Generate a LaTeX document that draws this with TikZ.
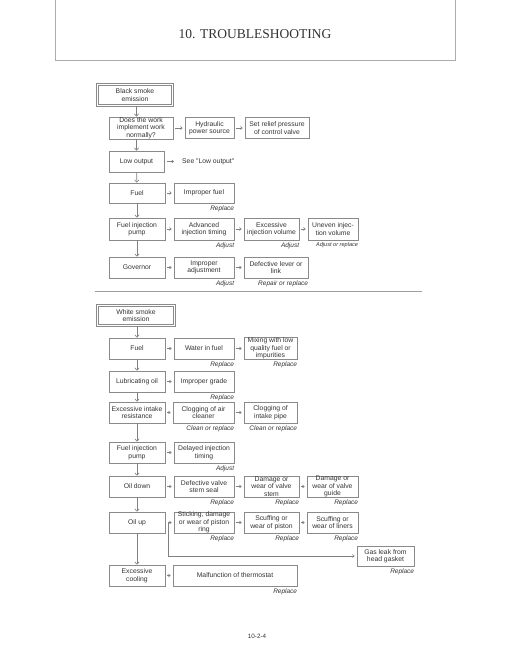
\documentclass[tikz,border=0pt]{standalone}
\usepackage{fontspec}
\newfontfamily\sansf{Liberation Sans}
\newfontfamily\seriff{Liberation Serif}
\usetikzlibrary{arrows.meta,calc}
\definecolor{bord}{HTML}{8A8A8A}
\definecolor{txt}{HTML}{333333}
\definecolor{arr}{HTML}{808080}
\tikzset{
  bx/.style={draw=bord, line width=0.6pt, inner sep=0pt, align=center, text=txt,
    font=\sansf\fontsize{6.8}{7.5}\selectfont, minimum height=21pt, minimum width=56pt},
  hdrbox/.style={bx, line width=0.5pt},
  hdrouter/.style={draw=bord, line width=0.9pt},
  note/.style={inner sep=0pt, text=txt, anchor=north east, yshift=-2pt,
    font=\sansf\itshape\fontsize{6.5}{7}\selectfont},
  smallnote/.style={note, font=\sansf\itshape\fontsize{5.6}{6}\selectfont},
  varr/.style={draw=arr, line width=0.6pt, -{Straight Barb[length=2.5pt,width=4.5pt]}},
  harr/.style={draw=arr, line width=0.6pt, -{Straight Barb[length=1.8pt,width=3pt]},
    shorten <=2pt, shorten >=2pt},
  frameline/.style={draw=gray!65, line width=1pt},
  sepline/.style={draw=gray!75, line width=0.9pt},
}
\begin{document}
\begin{tikzpicture}[x=1pt,y=-1pt]
\useasboundingbox (0,0) rectangle (510,660);
% page header
\draw[frameline] (55,0) -- (55,61) -- (455,61) -- (455,0);
\node[inner sep=0pt, text=txt, font=\seriff\fontsize{13.5}{15}\selectfont] (title) at (255,34) {10. TROUBLESHOOTING};

% ---------------- Black smoke ----------------
\node[hdrbox, minimum width=73pt, minimum height=19pt] (bs) at (135,95) {Black smoke\\emission};
\draw[hdrouter] ([xshift=-1.6pt,yshift=1.6pt]bs.north west) rectangle ([xshift=1.6pt,yshift=-1.6pt]bs.south east);
\node[bx, minimum width=64pt, minimum height=22pt] (q1) at (141,128) {Does the work\\implement work\\normally?};
\node[bx, minimum width=49pt] (hyd) at (209.5,128) {Hydraulic\\power source};
\node[bx, minimum width=64pt] (relief) at (277,128) {Set relief pressure\\of control valve};
\node[bx, minimum width=55pt] (low) at (136.5,161.5) {Low output};
\node[inner sep=0pt, text=txt, font=\sansf\fontsize{6.8}{7.5}\selectfont, anchor=west] (see) at (182,161.5) {See "Low output"};
\node[bx, minimum height=20pt] (fuel) at (137,193) {Fuel};
\node[bx, minimum width=60pt, minimum height=20pt] (impfuel) at (204,193) {Improper fuel};
\node[bx, minimum height=22pt] (fip) at (137,229) {Fuel injection\\pump};
\node[bx, minimum width=60pt, minimum height=22pt] (adv) at (204,229) {Advanced\\injection timing};
\node[bx, minimum width=55pt, minimum height=22pt] (exc) at (271.5,229) {Excessive\\injection volume};
\node[bx, minimum width=50pt, minimum height=22pt] (uneven) at (333,229) {Uneven injec-\\tion volume};
\node[bx] (gov) at (137,267.5) {Governor};
\node[bx, minimum width=60pt] (impadj) at (204,267.5) {Improper\\adjustment};
\node[bx, minimum width=64pt] (defl) at (276,267.5) {Defective lever or\\link};

\node[note] (n1) at (impfuel.south east) {Replace};
\node[note] (n2) at (adv.south east) {Adjust};
\node[note] (n3) at (exc.south east) {Adjust};
\node[smallnote] (n4) at (uneven.south east) {Adjust or replace};
\node[note] (n5) at (impadj.south east) {Adjust};
\node[note] (n6) at (defl.south east) {Repair or replace};

\draw[varr] ([yshift=-1.6pt]bs.south -| low.north) -- (q1.north -| low.north);
\draw[varr] (q1.south -| low.north) -- (low.north);
\draw[varr] (low) -- (fuel);
\draw[varr] (fuel) -- (fip);
\draw[varr] (fip) -- (gov);
\draw[harr] (q1) -- (hyd);
\draw[harr] (hyd) -- (relief);
\draw[harr, shorten <=3pt, shorten >=8pt] (low) -- (see);
\draw[harr] (fuel) -- (impfuel);
\draw[harr] (fip) -- (adv);
\draw[harr] (adv) -- (exc);
\draw[harr] (exc) -- (uneven);
\draw[harr] (gov) -- (impadj);
\draw[harr] (impadj) -- (defl);

% separator
\draw[sepline] (95,291) -- (422,291);

% ---------------- White smoke ----------------
\node[hdrbox, minimum width=75pt, minimum height=18pt] (ws) at (136,315.5) {White smoke\\emission};
\draw[hdrouter] ([xshift=-1.6pt,yshift=1.6pt]ws.north west) rectangle ([xshift=1.6pt,yshift=-1.6pt]ws.south east);
\node[bx] (wfuel) at (137,348.5) {Fuel};
\node[bx, minimum width=60pt] (water) at (204,348.5) {Water in fuel};
\node[bx, minimum width=53pt, minimum height=22pt] (mix) at (270.5,348.5) {Mixing with low\\quality fuel or\\impurities};
\node[bx] (lub) at (137,381.5) {Lubricating oil};
\node[bx, minimum width=60pt] (grade) at (204,381.5) {Improper grade};
\node[bx] (intake) at (137,412.5) {Excessive intake\\resistance};
\node[bx, minimum width=61pt] (aircl) at (203.5,412.5) {Clogging of air\\cleaner};
\node[bx, minimum width=53pt] (pipe) at (270.5,412.5) {Clogging of\\intake pipe};
\node[bx] (wfip) at (137,452.5) {Fuel injection\\pump};
\node[bx, minimum width=60pt] (delayed) at (204,452.5) {Delayed injection\\timing};
\node[bx] (oildown) at (137,486.5) {Oil down};
\node[bx, minimum width=60pt] (stemseal) at (204,486.5) {Defective valve\\stem seal};
\node[bx, minimum width=55pt] (vstem) at (271.5,486.5) {Damage or\\wear of valve\\stem};
\node[bx, minimum width=51pt] (vguide) at (332.5,486.5) {Damage or\\wear of valve\\guide};
\node[bx] (oilup) at (137,522.5) {Oil up};
\node[bx, minimum width=60pt] (piston) at (204,522.5) {Sticking, damage\\or wear of piston\\ring};
\node[bx, minimum width=55pt] (scuffp) at (271.5,522.5) {Scuffing or\\wear of piston};
\node[bx, minimum width=51pt] (scuffl) at (332.5,522.5) {Scuffing or\\wear of liners};
\node[bx, minimum width=57pt, minimum height=20pt] (gas) at (385.5,556) {Gas leak from\\head gasket};
\node[bx] (cool) at (137,575.5) {Excessive\\cooling};
\node[bx, minimum width=124pt] (thermo) at (235,575.5) {Malfunction of thermostat};

\node[note] (m1) at (water.south east) {Replace};
\node[note] (m2) at (mix.south east) {Replace};
\node[note] (m3) at (grade.south east) {Replace};
\node[note] (m4) at (aircl.south east) {Clean or replace};
\node[note] (m5) at (pipe.south east) {Clean or replace};
\node[note] (m6) at (delayed.south east) {Adjust};
\node[note] (m7) at (stemseal.south east) {Replace};
\node[note] (m8) at (vstem.south east) {Replace};
\node[note] (m9) at (vguide.south east) {Replace};
\node[note] (m10) at (piston.south east) {Replace};
\node[note] (m11) at (scuffp.south east) {Replace};
\node[note] (m12) at (scuffl.south east) {Replace};
\node[note] (m13) at (gas.south east) {Replace};
\node[note] (m14) at (thermo.south east) {Replace};

\draw[varr] ([yshift=-1.6pt]ws.south -| wfuel.north) -- (wfuel.north);
\draw[varr] (wfuel) -- (lub);
\draw[varr] (lub) -- (intake);
\draw[varr] (intake) -- (wfip);
\draw[varr] (wfip) -- (oildown);
\draw[varr] (oildown) -- (oilup);
\draw[varr] (oilup) -- (cool);
\draw[harr] (wfuel) -- (water);
\draw[harr] (water) -- (mix);
\draw[harr] (lub) -- (grade);
\draw[harr] (intake) -- (aircl);
\draw[harr] (aircl) -- (pipe);
\draw[harr] (wfip) -- (delayed);
\draw[harr] (oildown) -- (stemseal);
\draw[harr] (stemseal) -- (vstem);
\draw[harr] (vstem) -- (vguide);
\coordinate (br) at ($(oilup.east)+(2.5,0)$);
\draw[harr, shorten <=0pt] (br) -- (piston);
\draw[harr] (piston) -- (scuffp);
\draw[harr] (scuffp) -- (scuffl);
\draw[harr, shorten <=0pt] (br) |- (gas.west);
\draw[harr] (cool) -- (thermo);

% page number
\node[inner sep=0pt, text=txt, font=\sansf\fontsize{6.3}{7}\selectfont] (pg) at (257,636) {10-2-4};
\end{tikzpicture}
\end{document}
